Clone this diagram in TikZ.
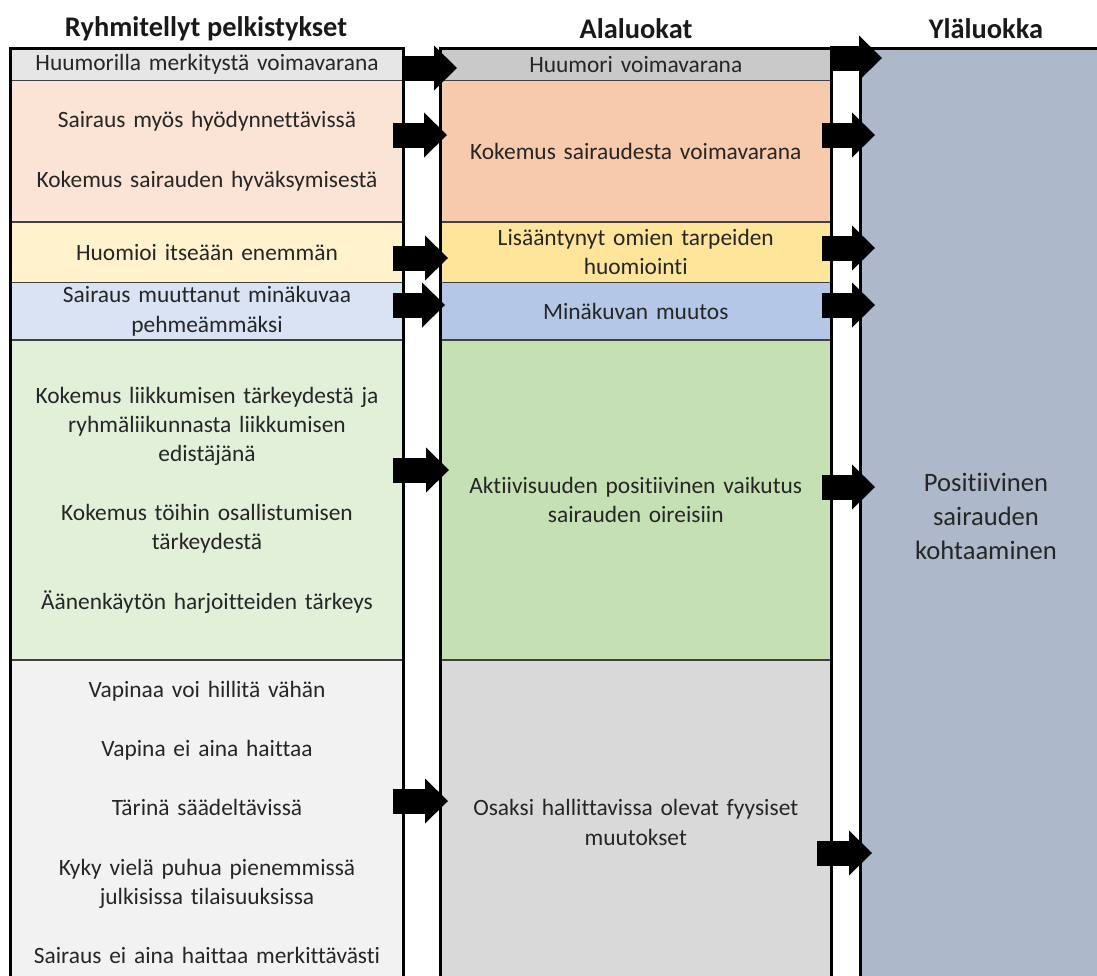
\documentclass[tikz,border=0pt]{standalone}
\usepackage{fontspec}
\setmainfont{Carlito}[Ligatures=NoCommon]
\usetikzlibrary{positioning,calc,arrows.meta}

\definecolor{grpA}{HTML}{E7E6E6}
\definecolor{grpB}{HTML}{FBE4D5}
\definecolor{grpC}{HTML}{FFF2CC}
\definecolor{grpD}{HTML}{DAE3F3}
\definecolor{grpE}{HTML}{E2EFD9}
\definecolor{grpF}{HTML}{F2F2F2}
\definecolor{subA}{HTML}{C9C9C9}
\definecolor{subB}{HTML}{F7CAAC}
\definecolor{subC}{HTML}{FFE599}
\definecolor{subD}{HTML}{B4C7E7}
\definecolor{subE}{HTML}{C5E0B3}
\definecolor{subF}{HTML}{D9D9D9}
\definecolor{topc}{HTML}{ADB9CA}

\tikzstyle{cell} = [rectangle, draw=black!75, line width=0.75pt, outer sep=0pt, inner sep=0pt, text width=190pt, align=center, text=black!85, font=\fontsize{11.7}{14.6}\selectfont]

\begin{document}
\begin{tikzpicture}[x=0.5pt, y=-0.5pt, line join=miter]
	\tikzstyle{head}=[font=\bfseries\fontsize{14.2}{17}\selectfont, text=black!90]
	\tikzstyle{grp}=[cell, minimum width=196.5pt]
	\tikzstyle{sub}=[cell, minimum width=195.75pt]
	\tikzstyle{frame}=[line width=1.5pt, black]
	\tikzstyle{blk}=[line width=12.5pt, black, -{Triangle[length=11.5pt, width=22.5pt, line width=0pt]}]
  \useasboundingbox (0,0) rectangle (1097,975);
  \node[head] (hgrp) at (206,29) {Ryhmitellyt pelkistykset};
  \node[head] (hsub) at (636,29) {Alaluokat};
  \node[head] (htop) at (986,29) {Yläluokka};
    \node[grp, fill=grpA, minimum height=16pt, anchor=north west] (grp1) at (10.5,48.5) {Huumorilla merkitystä voimavarana};
    \node[grp, fill=grpB, minimum height=70.75pt, below=0pt of grp1] (grp2) {Sairaus myös hyödynnettävissä\\[15pt]Kokemus sairauden hyväksymisestä};
    \node[grp, fill=grpC, minimum height=30.25pt, below=0pt of grp2] (grp3) {Huomioi itseään enemmän};
    \node[grp, fill=grpD, minimum height=28.75pt, below=0pt of grp3] (grp4) {Sairaus muuttanut minäkuvaa\\pehmeämmäksi};
    \node[grp, fill=grpE, minimum height=160pt, below=0pt of grp4] (grp5) {Kokemus liikkumisen tärkeydestä ja\\ryhmäliikunnasta liikkumisen\\edistäjänä\\[15pt]Kokemus töihin osallistumisen\\tärkeydestä\\[15pt]Äänenkäytön harjoitteiden tärkeys};
    \node[grp, fill=grpF, minimum height=162.5pt, below=0pt of grp5] (grp6) {Vapinaa voi hillitä vähän\\[15pt]Vapina ei aina haittaa\\[15pt]Tärinä säädeltävissä\\[15pt]Kyky vielä puhua pienemmissä\\julkisissa tilaisuuksissa\\[15pt]Sairaus ei aina haittaa merkittävästi};
        \node[sub, fill=subA, minimum height=16pt, anchor=north west] (sub1) at (440,48.5) {Huumori voimavarana};
        \node[sub, fill=subB, minimum height=70.75pt, below=0pt of sub1] (sub2) {Kokemus sairaudesta voimavarana};
        \node[sub, fill=subC, minimum height=30.25pt, below=0pt of sub2] (sub3) {Lisääntynyt omien tarpeiden\\huomiointi};
        \node[sub, fill=subD, minimum height=28.75pt, below=0pt of sub3] (sub4) {Minäkuvan muutos};
        \node[sub, fill=subE, minimum height=160pt, below=0pt of sub4] (sub5) {Aktiivisuuden positiivinen vaikutus\\sairauden oireisiin};
        \node[sub, fill=subF, minimum height=162.5pt, below=0pt of sub5] (sub6) {Osaksi hallittavissa olevat fyysiset\\muutokset};
            \node[fill=topc, minimum width=126pt, minimum height=468.25pt, anchor=north west, outer sep=0pt, align=center, text=black!85, font=\fontsize{13.3}{17}\selectfont] (top) at (860,48.5) {Positiivinen\\sairauden\\kohtaaminen};
\draw[frame] (grp6.south west) -- (grp1.north west) -- (grp1.north east) -- (grp6.south east);
\draw[frame] (sub6.south west) -- (sub1.north west) -- (sub1.north east) -- (sub6.south east);
\draw[frame] (top.south west) -- (top.north west) -- (top.north east);
\draw[blk] ($(grp1.east)+(-0.5,3.5)$) -- ($(sub1.west)+(17,3.5)$);
\draw[blk] ($(grp2.east)+(-10.5,-16.25)$) -- ($(sub2.west)+(7,-16.25)$);
\draw[blk] ($(grp3.east)+(-10.5,5.75)$) -- ($(sub3.west)+(8,5.75)$);
\draw[blk] ($(grp4.east)+(-10.5,-6.25)$) -- ($(sub4.west)+(5,-6.25)$);
\draw[blk] ($(grp5.east)+(-10.5,-30)$) -- ($(sub5.west)+(9,-30)$);
\draw[blk] ($(grp6.east)+(-10.5,-21.5)$) -- ($(sub6.west)+(8,-21.5)$);
\draw[blk] ($(sub1.east)+(-1.5,-6.5)$) -- ($(sub1.east -| top.west)+(22,-6.5)$);
\draw[blk] ($(sub2.east)+(-9.5,-16.25)$) -- ($(sub2.east -| top.west)+(15,-16.25)$);
\draw[blk] ($(sub3.east)+(-9.5,-4.25)$) -- ($(sub3.east -| top.west)+(15,-4.25)$);
\draw[blk] ($(sub4.east)+(-9.5,-6.25)$) -- ($(sub4.east -| top.west)+(15,-6.25)$);
\draw[blk] ($(sub5.east)+(-9.5,-13)$) -- ($(sub5.east -| top.west)+(15,-13)$);
\draw[blk] ($(sub6.east)+(-14.5,30.5)$) -- ($(sub6.east -| top.west)+(12,30.5)$);
\end{tikzpicture}
\end{document}
